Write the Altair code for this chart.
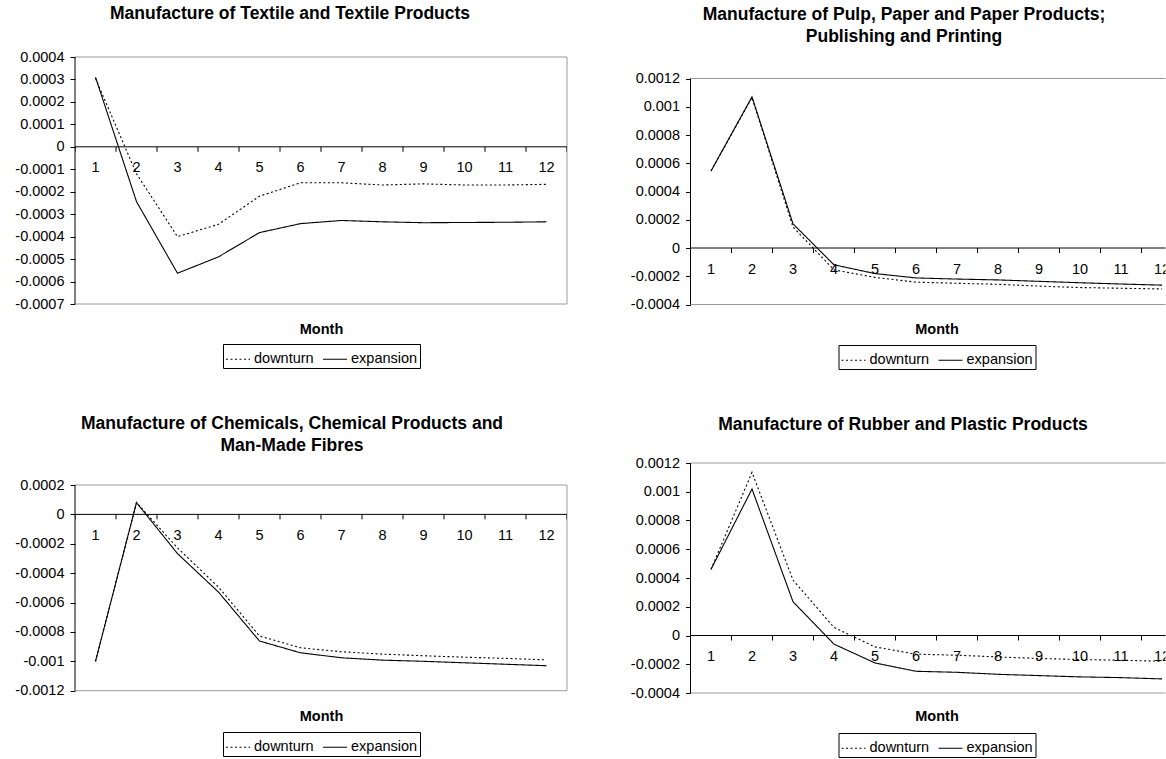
import altair as alt
import pandas as pd

FONT = "Liberation Sans"

# ---------------- data ----------------
months = list(range(1, 13))
month_labels = [str(m) for m in months]
cat_bounds = [m - 0.5 for m in range(1, 14)]
series_names = ["downturn", "expansion"]

title_textile = ["Manufacture of Textile and Textile Products"]
title_pulp = ["Manufacture of Pulp, Paper and Paper Products;", "Publishing and Printing"]
title_chem = ["Manufacture of Chemicals, Chemical Products and", "Man-Made Fibres"]
title_rubber = ["Manufacture of Rubber and Plastic Products"]

textile_down = [0.000305, -0.00012, -0.00040, -0.000345, -0.00022, -0.00016,
                -0.00016, -0.00017, -0.000165, -0.00017, -0.00017, -0.000167]
textile_exp = [0.00031, -0.000244, -0.000563, -0.00049, -0.000382, -0.000342,
               -0.000328, -0.000334, -0.000338, -0.000337, -0.000336, -0.000334]

pulp_down = [0.000545, 0.001065, 0.000148, -0.000155, -0.000208, -0.000242,
             -0.00025, -0.000257, -0.00027, -0.00028, -0.000285, -0.00029]
pulp_exp = [0.000545, 0.00107, 0.000171, -0.000119, -0.000181, -0.000212,
            -0.00022, -0.000226, -0.000236, -0.000246, -0.000255, -0.000263]

chem_down = [-0.001, 0.00008, -0.000228, -0.000495, -0.000828, -0.000908,
             -0.000935, -0.000951, -0.000962, -0.000972, -0.00098, -0.00099]
chem_exp = [-0.001, 0.00008, -0.000267, -0.000529, -0.000862, -0.000942,
            -0.000976, -0.000992, -0.001, -0.00101, -0.00102, -0.00103]

rubber_down = [0.00046, 0.001135, 0.000386, 0.000056, -0.000079, -0.00013,
               -0.000137, -0.000149, -0.00016, -0.000167, -0.000172, -0.000179]
rubber_exp = [0.00046, 0.001019, 0.000235, -0.00006, -0.000191, -0.000249,
              -0.000256, -0.00027, -0.000279, -0.000288, -0.000293, -0.000302]

yticks_textile = [-0.0007, -0.0006, -0.0005, -0.0004, -0.0003, -0.0002, -0.0001,
                  0, 0.0001, 0.0002, 0.0003, 0.0004]
yticks_pulp = [-0.0004, -0.0002, 0, 0.0002, 0.0004, 0.0006, 0.0008, 0.001, 0.0012]
yticks_chem = [-0.0012, -0.001, -0.0008, -0.0006, -0.0004, -0.0002, 0, 0.0002]
yticks_rubber = [-0.0004, -0.0002, 0, 0.0002, 0.0004, 0.0006, 0.0008, 0.001, 0.0012]

# ---------------- styling / layout ----------------
GRAY = "#9a9a9a"
CAT_W = 41.0
LABEL_EXPR = "replace(format(datum.value, '.4~f'), '\u2212', '-')"


def panel(title, down, exp, yticks, width, height, top_gap, title_dx,
          title_offset, legend_y, month_pad, right_border):
    # plot frame spans [top_gap, height] in pixels; above it stays empty
    xmax = 0.5 + width / CAT_W
    ylo, yhi = yticks[0], yticks[-1]
    ytop = yhi + top_gap * (yhi - ylo) / (height - top_gap)
    xscale = alt.Scale(domain=[0.5, xmax], nice=False, zero=False)
    yscale = alt.Scale(domain=[ylo, ytop], nice=False, zero=False)
    xaxis = alt.Axis(title="Month", labels=False, ticks=False, domain=False,
                     grid=False, titleFont=FONT, titleFontSize=14.5,
                     titleFontWeight="bold", titleColor="black",
                     titlePadding=month_pad, titleX=6 * CAT_W)
    yaxis = alt.Axis(title=None, values=yticks, grid=False, domain=False,
                     tickColor="black", tickSize=5, tickWidth=1,
                     labelFont=FONT, labelFontSize=14.5, labelColor="black",
                     labelPadding=6, minExtent=75, maxExtent=75,
                     labelExpr=LABEL_EXPR, labelOverlap=False)

    def X(field="Month"):
        return alt.X(f"{field}:Q", scale=xscale, axis=xaxis, title="Month")

    def Y(field):
        return alt.Y(f"{field}:Q", scale=yscale, axis=yaxis)

    df = pd.DataFrame({
        "Month": months * 2,
        "value": down + exp,
        "series": [series_names[0]] * 12 + [series_names[1]] * 12,
    })
    edge_df = pd.DataFrame({"v": [ylo, yhi]})
    zero_df = pd.DataFrame({"v": [0]})
    yline_df = pd.DataFrame({"Month": [cat_bounds[0]], "v": [ylo], "v2": [yhi]})
    bound_df = pd.DataFrame({"Month": cat_bounds, "v": [0] * len(cat_bounds)})
    lab_df = pd.DataFrame({"Month": months, "label": month_labels,
                           "v": [0] * 12})

    layers = []
    layers.append(alt.Chart(edge_df).mark_rule(color=GRAY, strokeWidth=1)
                  .encode(y=Y("v")))
    if right_border:
        rb_df = pd.DataFrame({"Month": [cat_bounds[-1]], "v": [ylo], "v2": [yhi]})
        layers.append(alt.Chart(rb_df).mark_rule(color=GRAY, strokeWidth=1)
                      .encode(x=X(), y=Y("v"), y2="v2:Q"))
    layers.append(alt.Chart(zero_df).mark_rule(color="black", strokeWidth=1)
                  .encode(y=Y("v")))
    layers.append(alt.Chart(yline_df).mark_rule(color="black", strokeWidth=1)
                  .encode(x=X(), y=Y("v"), y2="v2:Q"))
    layers.append(alt.Chart(bound_df).mark_rule(color="black", strokeWidth=1,
                                                 y2Offset=5, clip=True)
                  .encode(x=X(), y=Y("v"), y2="v:Q"))
    layers.append(alt.Chart(lab_df).mark_text(font=FONT, fontSize=14.5,
                                               color="black", dy=21.5,
                                               baseline="middle", clip=True)
                  .encode(x=X(), y=Y("v"), text="label:N"))
    layers.append(alt.Chart(df).mark_line(color="black", strokeWidth=1.1)
                  .encode(
                      x=X(), y=Y("value"),
                      strokeDash=alt.StrokeDash(
                          "series:N",
                          scale=alt.Scale(domain=series_names,
                                          range=[[2, 2.5], [1, 0]]),
                          legend=alt.Legend(
                              title=None, orient="none", legendX=148,
                              legendY=legend_y, direction="horizontal",
                              columns=2, symbolType="stroke", symbolSize=576,
                              symbolStrokeColor="black", symbolStrokeWidth=1.2,
                              labelFont=FONT, labelFontSize=14.5,
                              labelColor="black", labelOffset=3,
                              columnPadding=6, padding=2,
                              strokeColor="black", fillColor="white")),
                      order="Month:Q"))

    return alt.layer(*layers).properties(
        width=width, height=height,
        title=alt.TitleParams(text=title, anchor="middle", frame="group",
                              dx=title_dx, offset=title_offset, font=FONT,
                              fontSize=17.5, fontWeight="bold", color="black",
                              lineHeight=22),
    )


p1 = panel(title_textile, textile_down, textile_exp, yticks_textile,
           492, 247, 0, -31, 26.5, 287, 18, True)
p2 = panel(title_pulp, pulp_down, pulp_exp, yticks_pulp,
           475, 247.5, 21.5, -24, 11.75, 288, 18, False)
p3 = panel(title_chem, chem_down, chem_exp, yticks_chem,
           492, 227.7, 22, -29, 8.75, 269, 18.3, True)
p4 = panel(title_rubber, rubber_down, rubber_exp, yticks_rubber,
           475, 230, 0, -25, 21.5, 270, 16, False)

row1 = alt.hconcat(p1, p2, spacing=47.5).resolve_scale(
    strokeDash="independent").resolve_legend(strokeDash="independent")
row2 = alt.hconcat(p3, p4, spacing=47.5).resolve_scale(
    strokeDash="independent").resolve_legend(strokeDash="independent")
chart = alt.vconcat(row1, row2, spacing=44).resolve_scale(
    strokeDash="independent").resolve_legend(strokeDash="independent").properties(
    padding={"left": 0, "top": 5, "right": 0, "bottom": 0},
    background="white",
).configure_view(strokeWidth=0, strokeOpacity=0)

chart.save("out.html", embed_options={"renderer": "svg", "actions": False})
